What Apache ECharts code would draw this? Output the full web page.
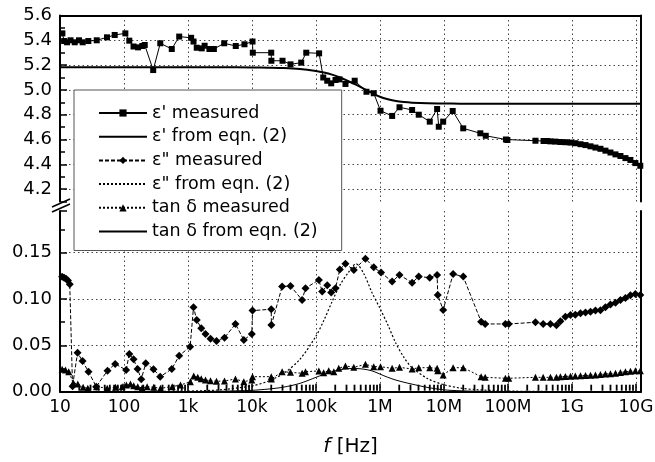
<!DOCTYPE html>
<html><head><meta charset="utf-8">
<script src="https://cdn.jsdelivr.net/npm/echarts@6/dist/echarts.min.js"></script>
<style>html,body{margin:0;padding:0;background:#fff}#c{width:655px;height:462px}</style>
</head><body><div id="c"></div>
<script>
// ---- data (frequencies in Hz) ----
const xTickLabels = ['10','100','1k','10k','100k','1M','10M','100M','1G','10G'];
const xMinorTickF = [20,30,40,50,60,70,80,90,200,300,400,500,600,700,800,900,2e3,3e3,4e3,5e3,6e3,7e3,8e3,9e3,2e4,3e4,4e4,5e4,6e4,7e4,8e4,9e4,2e5,3e5,4e5,5e5,6e5,7e5,8e5,9e5,2e6,3e6,4e6,5e6,6e6,7e6,8e6,9e6,2e7,3e7,4e7,5e7,6e7,7e7,8e7,9e7,2e8,3e8,4e8,5e8,6e8,7e8,8e8,9e8,2e9,3e9,4e9,5e9,6e9,7e9,8e9,9e9];
const seriesNames = ["ε' measured", "ε' from eqn. (2)", 'ε" measured', 'ε" from eqn. (2)', 'tan δ measured', 'tan δ from eqn. (2)'];

const epsRealMeasF = [10.9,11.6,12.9,14.6,17.0,19.8,22.6,27.7,37.5,54.2,71.6,105,121,141,166,193,211,286,369,558,729,1120,1220,1370,1640,1820,2160,2540,3680,5580,7630,10200,10300,20000,20100,30000,40000,58800,70500,112000,130000,150000,173000,202000,233000,289000,403000,615000,800000,1.02e6,1.55e6,2.02e6,3.18e6,4.04e6,6.0e6,7.82e6,8.3e6,9.72e6,1.37e7,2.0e7,3.7e7,4.5e7,9.3e7,9.8e7,2.69e8,3.6e8,4.1e8,4.6e8,5.5e8,6.6e8,7.9e8,9.5e8,1.13e9,1.36e9,1.63e9,1.95e9,2.33e9,2.79e9,3.34e9,4.0e9,4.79e9,5.73e9,6.86e9,8.2e9,9.8e9,1.17e10];
const epsRealMeasV = [5.456,5.394,5.384,5.40,5.384,5.40,5.384,5.394,5.40,5.424,5.443,5.456,5.397,5.35,5.343,5.354,5.362,5.16,5.376,5.33,5.43,5.42,5.39,5.34,5.335,5.356,5.33,5.33,5.376,5.354,5.368,5.39,5.30,5.30,5.235,5.235,5.206,5.22,5.30,5.295,5.10,5.074,5.053,5.08,5.085,5.048,5.074,4.985,4.973,4.832,4.79,4.86,4.838,4.80,4.744,4.846,4.703,4.744,4.83,4.69,4.65,4.63,4.60,4.596,4.59,4.588,4.588,4.585,4.583,4.58,4.578,4.575,4.57,4.562,4.555,4.545,4.535,4.525,4.51,4.495,4.48,4.467,4.45,4.435,4.41,4.388];

const eqnF = [10,100,1000,3160,10000,17800,31600,56200,100000,133000,178000,237000,316000,422000,562000,750000,1e6,1.33e6,1.78e6,2.37e6,3.16e6,5.62e6,1e7,1.78e7,3.16e7,1e8,1e9,1e10,1.2e10];
const epsRealEqnV = [5.182,5.182,5.182,5.182,5.181,5.179,5.176,5.168,5.152,5.140,5.123,5.100,5.072,5.042,5.008,4.975,4.945,4.925,4.910,4.902,4.897,4.892,4.890,4.889,4.889,4.889,4.889,4.889,4.889];
const epsImagEqnV = [0,0.0001,0.0007,0.002,0.0063,0.0113,0.020,0.035,0.060,0.077,0.097,0.115,0.128,0.138,0.127,0.107,0.090,0.072,0.052,0.037,0.026,0.014,0.0075,0.004,0.0022,0.0007,0.0001,0,0];
const tanEqnV = [0,0,0.0002,0.0005,0.0015,0.0028,0.005,0.009,0.0155,0.0188,0.0215,0.0238,0.0249,0.025,0.0243,0.0225,0.019,0.0155,0.0125,0.0102,0.0082,0.0045,0.002,0.001,0.0005,0.0001,0,0,0];

const epsImagMeasF = [10.8,11.6,12.4,13.3,14.2,15.7,18.8,22.5,27.9,36.8,55.2,72.8,108,121,141,163,186,219,289,368,558,729,1080,1220,1370,1610,1880,2250,2790,3720,5520,7450,9930,10200,20000,20100,29600,40000,60800,68600,111000,125000,150000,173000,202000,236000,289000,390000,593000,800000,1.04e6,1.55e6,2.02e6,3.18e6,4.04e6,6.0e6,7.82e6,8.0e6,9.72e6,1.39e7,2.0e7,3.81e7,4.41e7,9.14e7,1.03e8,2.69e8,3.55e8,4.61e8,5.73e8,6.6e8,7.9e8,9.5e8,1.13e9,1.36e9,1.63e9,1.95e9,2.33e9,2.79e9,3.34e9,4.0e9,4.79e9,5.73e9,6.86e9,8.2e9,9.8e9,1.17e10];
const epsImagMeasV = [0.124,0.123,0.122,0.120,0.116,0.006,0.042,0.033,0.0216,0.0054,0.0227,0.030,0.0234,0.0407,0.035,0.0245,0.0134,0.0307,0.0242,0.0162,0.0245,0.0389,0.0486,0.0911,0.0774,0.0685,0.0623,0.0572,0.0548,0.0583,0.0731,0.0558,0.0623,0.0875,0.089,0.072,0.1134,0.1141,0.099,0.1117,0.1206,0.108,0.115,0.107,0.1117,0.132,0.138,0.1314,0.1436,0.1343,0.1285,0.1188,0.126,0.1177,0.1242,0.1231,0.126,0.1044,0.0882,0.127,0.1242,0.0756,0.0731,0.0731,0.0731,0.0749,0.0731,0.0731,0.0717,0.076,0.081,0.0828,0.083,0.0847,0.0855,0.0862,0.0875,0.088,0.091,0.094,0.096,0.099,0.101,0.104,0.1055,0.1044];

const tanMeasF = [10.8,12.2,13.7,16.1,19.0,23.0,27.2,37.2,54.6,73.6,93.8,109,126,142,164,192,230,292,372,566,764,1090,1230,1420,1610,1880,2250,2790,3720,5520,7450,9930,10200,20000,20100,29600,40000,60800,68600,111000,132000,158000,190000,227000,289000,390000,593000,800000,1.02e6,1.55e6,2.02e6,3.18e6,4.04e6,6.0e6,7.82e6,8.0e6,9.72e6,1.39e7,2.0e7,3.81e7,4.41e7,9.14e7,1.03e8,2.69e8,3.55e8,4.61e8,5.73e8,6.6e8,7.9e8,9.5e8,1.13e9,1.36e9,1.63e9,1.95e9,2.33e9,2.79e9,3.34e9,4.0e9,4.79e9,5.73e9,6.86e9,8.2e9,9.8e9,1.17e10];
const tanMeasV = [0.0242,0.0234,0.0216,0.0097,0.0083,0.0048,0.0037,0.0054,0.0037,0.0048,0.0054,0.0072,0.0083,0.0065,0.0054,0.004,0.0054,0.0048,0.0037,0.0054,0.0072,0.0108,0.017,0.0155,0.014,0.0126,0.0119,0.0112,0.0116,0.0137,0.0108,0.0126,0.0162,0.0162,0.0137,0.0216,0.0209,0.0199,0.0216,0.0224,0.0205,0.0227,0.0216,0.0252,0.0278,0.0263,0.0296,0.027,0.027,0.0252,0.0263,0.0245,0.0259,0.0259,0.0252,0.0227,0.018,0.0259,0.0259,0.0162,0.0155,0.0145,0.0145,0.0155,0.0155,0.0155,0.0155,0.0162,0.0165,0.0168,0.017,0.0172,0.0175,0.0178,0.018,0.0185,0.019,0.0195,0.02,0.0208,0.0215,0.022,0.0225,0.0225];

// ---- chart ----
const FONT = 'DejaVu Sans';
const zip = (f, v) => f.map((x, i) => [x, v[i]]);
const dotted = {color: '#444', type: [1.5, 3], width: 1};
const frame = {show: true, onZero: false, lineStyle: {color: '#000', width: 2}};
const xLabelFmt = v => { const i = Math.round(Math.log10(v)) - 1; return xTickLabels[i] !== undefined ? xTickLabels[i] : ''; };
const xLbl = {fontSize: 17, color: '#000', fontFamily: FONT};
const yLbl = {fontSize: 18, color: '#000', fontFamily: FONT};
const noSymbolLegend = {opacity: 0};

const chart = echarts.init(document.getElementById('c'));
chart.setOption({
  animation: false,
  backgroundColor: '#fff',
  grid: [
    {left: 60, right: 14, top: 15.5, height: 186, containLabel: false, outerBoundsMode: 'none'},
    {left: 60, right: 14, top: 211, height: 180.7, containLabel: false, outerBoundsMode: 'none'}
  ],
  xAxis: [
    {type: 'log', gridIndex: 0, min: 10, max: 1.2e10, position: 'top', axisLine: frame,
     axisTick: {show: false}, axisLabel: {show: false},
     splitLine: {show: true, lineStyle: dotted, showMinLine: false, showMaxLine: false}},
    {type: 'log', gridIndex: 1, min: 10, max: 1.2e10, position: 'bottom', axisLine: frame,
     axisTick: {show: true, inside: true, length: 8, lineStyle: {color: '#000', width: 1.6}},
     axisLabel: {...xLbl, formatter: xLabelFmt, showMaxLabel: false, margin: 7},
     splitLine: {show: true, lineStyle: dotted, showMinLine: false, showMaxLine: false},
     name: '{i|f} [Hz]', nameLocation: 'middle', nameGap: 45,
     nameTextStyle: {fontSize: 20, color: '#000', fontFamily: FONT,
       rich: {i: {fontStyle: 'italic', fontSize: 20, color: '#000', fontFamily: FONT}}}}
  ],
  yAxis: [
    {type: 'value', gridIndex: 0, min: 4.1, max: 5.6, splitNumber: 7, position: 'left', axisLine: frame,
     axisTick: {show: true, inside: true, length: 7, lineStyle: {color: '#000', width: 1.5}},
     minorTick: {show: true, splitNumber: 2, length: 5, lineStyle: {color: '#000', width: 1.5}},
     axisLabel: {...yLbl, formatter: v => v.toFixed(1), showMinLabel: false, margin: 8},
     splitLine: {show: true, lineStyle: dotted, showMinLine: false, showMaxLine: false}},
    {type: 'value', gridIndex: 0, min: 4.1, max: 5.6, position: 'right', axisLine: frame,
     axisTick: {show: false}, axisLabel: {show: false}, splitLine: {show: false}},
    {type: 'value', gridIndex: 1, min: 0, max: 0.195, interval: 0.05, position: 'left', axisLine: frame,
     axisTick: {show: true, inside: true, length: 7, lineStyle: {color: '#000', width: 1.5}},
     minorTick: {show: true, splitNumber: 2, length: 5, lineStyle: {color: '#000', width: 1.5}},
     axisLabel: {...yLbl, formatter: v => v.toFixed(2), showMaxLabel: false, margin: 8},
     splitLine: {show: true, lineStyle: dotted, showMinLine: false, showMaxLine: false}},
    {type: 'value', gridIndex: 1, min: 0, max: 0.195, position: 'right', axisLine: frame,
     axisTick: {show: false}, axisLabel: {show: false}, splitLine: {show: false}}
  ],
  legend: {
    orient: 'vertical', left: 74, top: 90,
    data: [
      {name: seriesNames[0]},
      {name: seriesNames[1], itemStyle: noSymbolLegend},
      {name: seriesNames[2]},
      {name: seriesNames[3], itemStyle: noSymbolLegend},
      {name: seriesNames[4]},
      {name: seriesNames[5], itemStyle: noSymbolLegend}
    ],
    backgroundColor: '#fff', borderColor: '#555', borderWidth: 1,
    padding: [14, 24, 10, 24], itemWidth: 48, itemHeight: 9, itemGap: 5.7,
    textStyle: {fontSize: 17.5, lineHeight: 16, color: '#000', fontFamily: FONT},
    inactiveColor: '#000'
  },
  series: [
    {name: seriesNames[1], type: 'line', xAxisIndex: 0, yAxisIndex: 0, data: zip(eqnF, epsRealEqnV),
     symbol: 'none', smooth: 0.3, lineStyle: {color: '#000', width: 2}, itemStyle: {color: '#000'}, z: 2},
    {name: seriesNames[0], type: 'line', xAxisIndex: 0, yAxisIndex: 0, data: zip(epsRealMeasF, epsRealMeasV),
     symbol: 'rect', symbolSize: 6, lineStyle: {color: '#000', width: 1}, itemStyle: {color: '#000'}, z: 3},
    {name: seriesNames[2], type: 'line', xAxisIndex: 1, yAxisIndex: 2, data: zip(epsImagMeasF, epsImagMeasV),
     symbol: 'diamond', symbolSize: 8, lineStyle: {color: '#000', width: 1, type: [4, 2]}, itemStyle: {color: '#000'}, z: 3},
    {name: seriesNames[3], type: 'line', xAxisIndex: 1, yAxisIndex: 2, data: zip(eqnF, epsImagEqnV),
     symbol: 'none', smooth: 0.3, lineStyle: {color: '#000', width: 1.2, type: [2, 2]}, itemStyle: {color: '#000'}, z: 2},
    {name: seriesNames[4], type: 'line', xAxisIndex: 1, yAxisIndex: 2, data: zip(tanMeasF, tanMeasV),
     symbol: 'triangle', symbolSize: 7, lineStyle: {color: '#000', width: 1, type: [2, 2]}, itemStyle: {color: '#000'}, z: 3},
    {name: seriesNames[5], type: 'line', xAxisIndex: 1, yAxisIndex: 2, data: zip(eqnF, tanEqnV),
     symbol: 'none', smooth: 0.3, lineStyle: {color: '#000', width: 1}, itemStyle: {color: '#000'}, z: 2},
    // minor log ticks on the frequency axis (positions come from the axis scale)
    {name: seriesNames[5], type: 'scatter', xAxisIndex: 1, yAxisIndex: 2, clip: false, z: 4,
     data: xMinorTickF.map(f => [f, 0]),
     symbol: 'rect', symbolSize: [1.8, 6], symbolOffset: [0, -4],
     itemStyle: {color: '#000', opacity: 1}}
  ],
  graphic: [
    {type: 'line', shape: {x1: 52, y1: 207, x2: 70, y2: 199}, style: {stroke: '#000', lineWidth: 1.6}, z: 10},
    {type: 'line', shape: {x1: 52, y1: 212, x2: 70, y2: 204}, style: {stroke: '#000', lineWidth: 1.6}, z: 10}
  ]
});
</script></body></html>
